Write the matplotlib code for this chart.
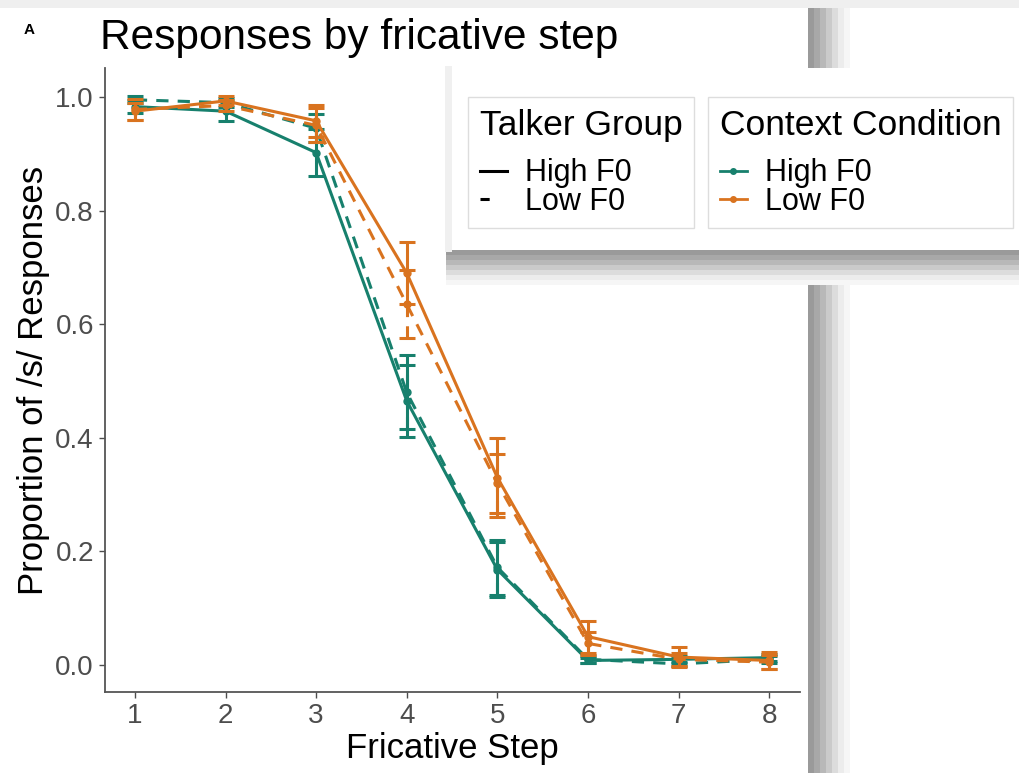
import numpy as np
import matplotlib.pyplot as plt
from matplotlib.patches import Rectangle
from matplotlib.lines import Line2D

plt.rcParams['font.family'] = ['Liberation Sans', 'DejaVu Sans']

# data
steps = [1, 2, 3, 4, 5, 6, 7, 8]
hi_ctx_hi_talk = [0.983, 0.975, 0.902, 0.465, 0.168, 0.008, 0.010, 0.013]
hi_ctx_lo_talk = [0.995, 0.990, 0.945, 0.480, 0.172, 0.010, 0.002, 0.010]
lo_ctx_hi_talk = [0.975, 0.993, 0.958, 0.690, 0.330, 0.050, 0.014, 0.008]
lo_ctx_lo_talk = [0.978, 0.985, 0.950, 0.635, 0.320, 0.038, 0.010, 0.005]
hi_hi_err = [0.012, 0.018, 0.042, 0.063, 0.048, 0.005, 0.006, 0.006]
hi_lo_err = [0.006, 0.008, 0.025, 0.065, 0.048, 0.006, 0.004, 0.006]
lo_hi_err = [0.015, 0.008, 0.028, 0.055, 0.070, 0.028, 0.018, 0.015]
lo_lo_err = [0.018, 0.010, 0.030, 0.060, 0.052, 0.020, 0.012, 0.012]

yticks = [0.0, 0.2, 0.4, 0.6, 0.8, 1.0]
ytick_labels = ['0.0', '0.2', '0.4', '0.6', '0.8', '1.0']
talker_labels = ['High F0', 'Low F0']
context_labels = ['High F0', 'Low F0']

TEAL = '#17806d'
ORANGE = '#d9731f'
W, H = 1019, 773


def px_box(x0, y0, x1, y1):
    """figure-fraction rect from pixel coords (top-left origin)"""
    return [x0 / W, 1 - y1 / H, (x1 - x0) / W, (y1 - y0) / H]


fig = plt.figure(figsize=(W / 100, H / 100), dpi=100)
fig.patch.set_facecolor('white')

ax = fig.add_axes(px_box(105, 68, 800, 692))
series = [
    (hi_ctx_hi_talk, hi_hi_err, TEAL, '-'),
    (hi_ctx_lo_talk, hi_lo_err, TEAL, (0, (4, 3))),
    (lo_ctx_hi_talk, lo_hi_err, ORANGE, '-'),
    (lo_ctx_lo_talk, lo_lo_err, ORANGE, (0, (4, 3))),
]
for vals, err, col, ls in series:
    ax.plot(steps, vals, color=col, linestyle=ls, linewidth=2.2,
            marker='o', markersize=5)
    eb = ax.errorbar(steps, vals, yerr=err, fmt='none', ecolor=col,
                     elinewidth=2.2, capsize=6, capthick=2.2)
    eb[2][0].set_linestyle(ls)

ax.set_xlim(0.67, 8.34)
ax.set_ylim(-0.0475, 1.051)
ax.set_xticks(steps)
ax.set_yticks(yticks)
ax.set_yticklabels(ytick_labels)
ax.tick_params(labelsize=20, colors='#4d4d4d', length=4, width=1, pad=4)
for s in ['top', 'right']:
    ax.spines[s].set_visible(False)
for s in ['left', 'bottom']:
    ax.spines[s].set_color('#555555')
    ax.spines[s].set_linewidth(1.3)
ax.set_xlabel('Fricative Step', fontsize=25, labelpad=2)
ax.set_ylabel('Proportion of /s/ Responses', fontsize=25, labelpad=4)

fig.text(100 / W, 1 - 38 / H, 'Responses by fricative step', fontsize=30.5,
         va='center', ha='left')
fig.text(24 / W, 1 - 30 / H, 'A', fontsize=11, fontweight='bold',
         va='center', ha='left')

# screenshot frame, shadows and the floating legend panel
over = fig.add_axes([0, 0, 1, 1], zorder=3)
over.set_xlim(0, W)
over.set_ylim(H, 0)
over.axis('off')
over.patch.set_alpha(0)
over.add_patch(Rectangle((0, 0), W, 8, color='#efefef', lw=0))
grays = ['#9a9a9a', '#a8a8a8', '#b8b8b8', '#cacaca', '#dcdcdc', '#ececec', '#f6f6f6']
for i, g in enumerate(grays):
    over.add_patch(Rectangle((808 + i * 6, 8), 6, H - 8, color=g, lw=0))
for i, g in enumerate(grays):
    over.add_patch(Rectangle((446, 250 + i * 5), W - 446, 5, color=g, lw=0))
over.add_patch(Rectangle((445, 66), 7, 186, color='#f0f0f0', lw=0))
over.add_patch(Rectangle((452, 68), W - 452, 182, color='white', lw=0))

talker_handles = [Line2D([], [], color='black', lw=2.2, linestyle='-'),
                  Line2D([], [], color='black', lw=2.2, linestyle=(0, (3, 20)))]
context_handles = [Line2D([], [], color=TEAL, lw=2, marker='o', markersize=4),
                   Line2D([], [], color=ORANGE, lw=2, marker='o', markersize=4)]

common = dict(loc='upper left', fontsize=22, title_fontsize=25.5, fancybox=False,
              edgecolor='#dddddd', facecolor='white', framealpha=1,
              handlelength=0.9, handletextpad=0.6, labelspacing=-0.05,
              alignment='left', borderpad=0.38, borderaxespad=0)
leg1 = fig.legend(talker_handles, talker_labels, title='Talker Group',
                  bbox_to_anchor=(468 / W, 1 - 97 / H), **common)
leg2 = fig.legend(context_handles, context_labels, title='Context Condition',
                  bbox_to_anchor=(708 / W, 1 - 97 / H), **common)
for leg in (leg1, leg2):
    leg.set_zorder(6)
    leg.get_frame().set_linewidth(1)
    leg._legend_box.sep = 12  # gap between title and entries, in points

fig.savefig('out.png', dpi=100)
